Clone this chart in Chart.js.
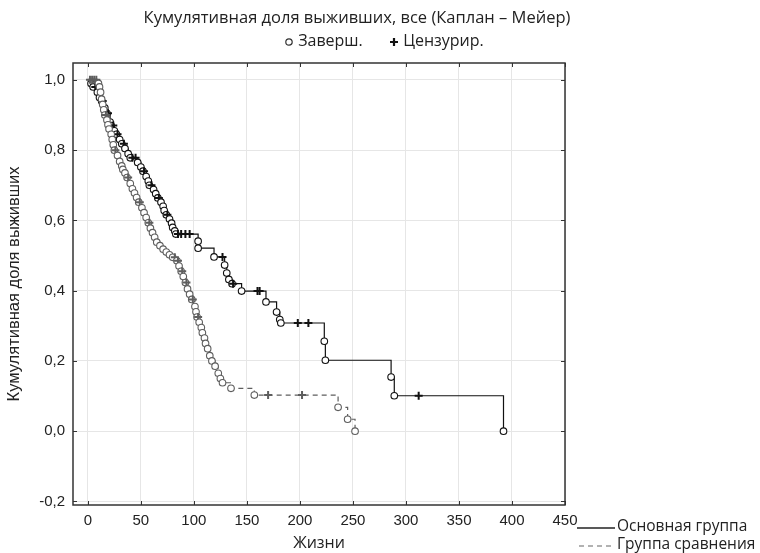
<!DOCTYPE html>
<html>
<head>
<meta charset="utf-8">
<script src="https://cdn.jsdelivr.net/npm/chart.js@4/dist/chart.umd.min.js"></script>
<style>
    body { margin: 0; background: #fff; }
    #wrap { position: relative; width: 760px; height: 553px; font-family: 'Open Sans', sans-serif; color: #222; }
    .txt { position: absolute; white-space: nowrap; line-height: 1; }
    .txt svg { vertical-align: middle; }
</style>
</head>
<body>
<div id="wrap">
    <canvas id="kmChart" width="760" height="553"></canvas>
    <div class="txt" style="left:0; width:714px; top:9px; text-align:center; font-size:16.5px;">Кумулятивная доля выживших, все (Каплан – Мейер)</div>
    <div class="txt" style="left:284px; top:32px; font-size:16px;">
        <svg width="10" height="10"><circle cx="5" cy="5" r="3.2" fill="none" stroke="#333" stroke-width="1.2"/></svg> Заверш.
    </div>
    <div class="txt" style="left:389px; top:32px; font-size:16px;">
        <svg width="10" height="10"><path d="M5 1V9M1 5H9" stroke="#111" stroke-width="2.2"/></svg> Цензурир.
    </div>
    <div class="txt" style="left:577px; top:518px; font-size:15.5px;">
        <svg width="40" height="10"><line x1="0" y1="6" x2="38" y2="6" stroke="#222" stroke-width="1.3"/></svg>Основная группа
    </div>
    <div class="txt" style="left:577px; top:536px; font-size:15.5px;">
        <svg width="40" height="10"><line x1="2" y1="6" x2="36" y2="6" stroke="#666" stroke-width="1.2" stroke-dasharray="5,4"/></svg>Группа сравнения
    </div>
</div>
<script>
// axis ticks
const xTicks = [0, 50, 100, 150, 200, 250, 300, 350, 400, 450];
const yTicks = [-0.2, 0, 0.2, 0.4, 0.6, 0.8, 1.0];

// main group (s = start, e = event, c = censored)
const mainTime = [0, 3, 5, 7, 9, 11, 13, 14, 16, 18, 19, 21, 22, 24, 25, 27, 28, 30, 32, 34,
    35, 38, 40, 42, 45, 47, 50, 52, 53, 55, 57, 58, 60, 62, 64, 66, 67, 69, 71, 72,
    74, 75, 77, 79, 80, 82, 83, 85, 88, 92, 96, 104, 104, 119, 127, 129, 131, 133, 136, 137,
    145, 160, 162, 168, 178, 181, 182, 198, 208, 223, 224, 286, 289, 312, 392];
const mainSurv = [1.0, 0.99, 0.98, 0.98, 0.965, 0.95, 0.94, 0.94, 0.92, 0.905, 0.905, 0.88, 0.87, 0.87, 0.855, 0.845, 0.845, 0.83, 0.818, 0.818,
    0.805, 0.79, 0.778, 0.778, 0.778, 0.765, 0.752, 0.74, 0.74, 0.725, 0.712, 0.7, 0.7, 0.688, 0.676, 0.664, 0.664, 0.652, 0.64, 0.628,
    0.616, 0.616, 0.604, 0.592, 0.58, 0.57, 0.561, 0.561, 0.561, 0.561, 0.561, 0.541, 0.521, 0.496, 0.496, 0.473, 0.45, 0.432, 0.42, 0.42,
    0.399, 0.399, 0.399, 0.368, 0.339, 0.318, 0.308, 0.308, 0.308, 0.256, 0.202, 0.154, 0.101, 0.101, 0.0];
const mainKind = ['s', 'e', 'e', 'c', 'e', 'e', 'e', 'c', 'e', 'e', 'c', 'e', 'e', 'c', 'e', 'e', 'c', 'e', 'e', 'c',
    'e', 'e', 'e', 'c', 'c', 'e', 'e', 'e', 'c', 'e', 'e', 'e', 'c', 'e', 'e', 'e', 'c', 'e', 'e', 'e',
    'e', 'c', 'e', 'e', 'e', 'e', 'e', 'c', 'c', 'c', 'c', 'e', 'e', 'e', 'c', 'e', 'e', 'e', 'e', 'c',
    'e', 'c', 'c', 'e', 'e', 'e', 'e', 'c', 'c', 'e', 'e', 'e', 'e', 'c', 'e'];

// comparison group
const compTime = [0, 2, 4, 6, 8, 10, 11, 12, 13, 14, 15, 16, 17, 18, 19, 20, 22, 23, 24, 25,
    26, 28, 30, 32, 33, 35, 37, 38, 40, 42, 44, 46, 48, 49, 51, 53, 55, 57, 58, 59,
    61, 63, 65, 68, 71, 74, 77, 80, 82, 84, 85, 86, 88, 89, 90, 92, 93, 94, 96, 98,
    99, 101, 102, 103, 104, 105, 107, 108, 110, 111, 113, 115, 117, 120, 123, 125, 127, 135, 157, 170,
    202, 236, 245, 252];
const compSurv = [1.0, 1.0, 1.0, 1.0, 1.0, 0.99, 0.98, 0.965, 0.945, 0.93, 0.915, 0.9, 0.9, 0.886, 0.872, 0.86, 0.845, 0.83, 0.815, 0.8,
    0.8, 0.785, 0.768, 0.755, 0.745, 0.735, 0.722, 0.722, 0.705, 0.69, 0.678, 0.665, 0.652, 0.652, 0.636, 0.622, 0.608, 0.593, 0.593, 0.578,
    0.565, 0.552, 0.538, 0.528, 0.518, 0.51, 0.502, 0.495, 0.495, 0.485, 0.485, 0.47, 0.455, 0.455, 0.44, 0.423, 0.423, 0.405, 0.39, 0.375,
    0.375, 0.355, 0.34, 0.325, 0.325, 0.31, 0.295, 0.28, 0.265, 0.25, 0.235, 0.215, 0.2, 0.185, 0.165, 0.15, 0.138, 0.122, 0.103, 0.103,
    0.103, 0.068, 0.034, 0.0];
const compKind = ['s', 'c', 'c', 'c', 'c', 'e', 'e', 'e', 'e', 'e', 'e', 'e', 'c', 'e', 'e', 'e', 'e', 'e', 'e', 'e',
    'c', 'e', 'e', 'e', 'e', 'e', 'e', 'c', 'e', 'e', 'e', 'e', 'e', 'c', 'e', 'e', 'e', 'e', 'c', 'e',
    'e', 'e', 'e', 'e', 'e', 'e', 'e', 'e', 'c', 'e', 'c', 'e', 'e', 'c', 'e', 'e', 'c', 'e', 'e', 'e',
    'c', 'e', 'e', 'e', 'c', 'e', 'e', 'e', 'e', 'e', 'e', 'e', 'e', 'e', 'e', 'e', 'e', 'e', 'e', 'c',
    'c', 'e', 'e', 'e'];

function kmDataset(times, surv, kinds, color, dash, order) {
    return {
        data: times.map((t, i) => ({ x: t, y: surv[i] })),
        stepped: 'before',
        borderColor: color,
        borderWidth: 1.2,
        borderDash: dash,
        pointStyle: kinds.map(k => k === 'c' ? 'cross' : 'circle'),
        pointRadius: kinds.map(k => k === 's' ? 0 : k === 'c' ? 4 : 3.3),
        pointBorderWidth: kinds.map(k => k === 'c' ? 2 : 1.1),
        pointBorderColor: color,
        pointBackgroundColor: '#fff',
        order: order
    };
}

// box frame with inward tick marks
const framePlugin = {
    id: 'frame',
    afterDatasetsDraw(chart) {
        const { ctx, chartArea: a, scales } = chart;
        ctx.save();
        ctx.strokeStyle = '#333';
        ctx.lineWidth = 1;
        ctx.beginPath();
        xTicks.forEach(v => {
            const px = Math.round(scales.x.getPixelForValue(v)) + 0.5;
            ctx.moveTo(px, a.bottom); ctx.lineTo(px, a.bottom - 4);
            ctx.moveTo(px, a.top); ctx.lineTo(px, a.top + 4);
        });
        yTicks.forEach(v => {
            const py = Math.round(scales.y.getPixelForValue(v)) + 0.5;
            ctx.moveTo(a.left, py); ctx.lineTo(a.left + 4, py);
            ctx.moveTo(a.right, py); ctx.lineTo(a.right - 4, py);
        });
        ctx.stroke();
        ctx.lineWidth = 1.5;
        ctx.strokeRect(a.left, a.top, a.right - a.left, a.bottom - a.top);
        ctx.restore();
    }
};

const tickFont = { family: "'Liberation Sans', Arial, sans-serif", size: 15 };

new Chart(document.getElementById('kmChart').getContext('2d'), {
    type: 'line',
    data: {
        datasets: [
            kmDataset(mainTime, mainSurv, mainKind, '#111', [], 2),
            kmDataset(compTime, compSurv, compKind, '#5e5e5e', [5, 4], 1)
        ]
    },
    options: {
        responsive: false,
        animation: false,
        layout: { padding: { top: 63, right: 195, left: 0, bottom: 0 } },
        plugins: { legend: { display: false }, tooltip: { enabled: false } },
        scales: {
            x: {
                type: 'linear',
                min: -14,
                max: 450,
                afterBuildTicks: s => { s.ticks = xTicks.map(v => ({ value: v })); },
                afterFit: s => { s.height = 48; },
                ticks: { font: tickFont, color: '#222', padding: 7, maxRotation: 0, autoSkip: false },
                grid: { color: '#e6e6e6', drawTicks: false },
                border: { display: false },
                title: { display: true, text: 'Жизни', color: '#222', font: { family: "'Open Sans', sans-serif", size: 16 }, padding: 0 }
            },
            y: {
                type: 'linear',
                min: -0.21,
                max: 1.048,
                afterBuildTicks: s => { s.ticks = yTicks.map(v => ({ value: v })); },
                afterFit: s => { s.width = 73; },
                ticks: {
                    font: tickFont, color: '#222', padding: 8,
                    callback: v => v.toFixed(1).replace('.', ',')
                },
                grid: { color: '#e6e6e6', drawTicks: false },
                border: { display: false },
                title: { display: true, text: 'Кумулятивная доля выживших', color: '#222', font: { family: "'Liberation Sans', Arial, sans-serif", size: 16.5 }, padding: { top: 5, bottom: 0 } }
            }
        }
    },
    plugins: [framePlugin]
});
</script>
</body>
</html>
